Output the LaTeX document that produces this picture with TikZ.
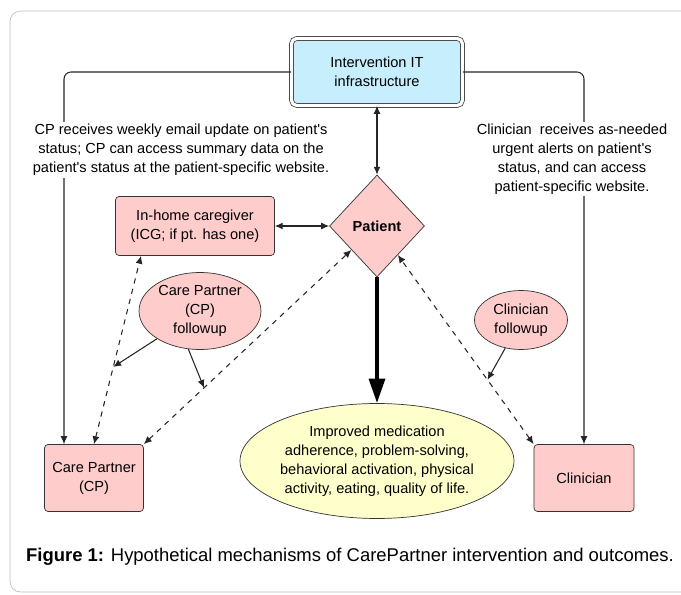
\documentclass[tikz,border=0pt]{standalone}
\usepackage{fontspec}
\setmainfont{Liberation Sans}
\usetikzlibrary{shapes.geometric,arrows.meta}
\definecolor{boxpink}{RGB}{255,204,204}
\definecolor{itblue}{RGB}{198,238,252}
\definecolor{outyellow}{RGB}{255,255,204}
\newcommand{\apos}{\textquotesingle}
\begin{document}
\begin{tikzpicture}[x=0.02cm, y=-0.02cm,
    font=\fontsize{8.3}{10.8}\selectfont,
    >={Latex[length=4.5pt,width=4pt]},
    pinkbox/.style={draw=black!80, fill=boxpink, rounded corners=2pt, align=center, inner sep=1pt},
    pinkoval/.style={ellipse, draw=black!80, fill=boxpink, align=center, inner sep=0pt},
    note/.style={fill=white, align=center, inner sep=1pt},
    link/.style={draw=black!85, line width=.6pt},
    maybe/.style={link, dashed}]
    \useasboundingbox (0,0) rectangle (681,595);
    \draw[black!25, rounded corners=6pt] (10,11) rectangle (720,592);
    \node[draw=black!80, double, double distance=1.8pt, fill=itblue, rounded corners=3pt, align=center, minimum width=3.42cm, minimum height=1.34cm] (it) at (377,72){Intervention IT\\infrastructure};
    \node[diamond, draw=black!80, fill=boxpink, minimum width=1.9cm, minimum height=2.04cm, inner sep=0pt, font=\fontsize{8.3}{10.8}\selectfont\bfseries] (patient) at (377,226){Patient};
    \node[pinkbox, minimum width=3.18cm, minimum height=1.18cm] (icg) at (195,226){In-home caregiver\\(ICG; if pt. has one)};
    \node[pinkoval, minimum width=2.44cm, minimum height=1.54cm] (cpf) at (200,311){Care Partner\\(CP)\\followup};
    \node[pinkoval, minimum width=1.86cm, minimum height=1.18cm] (clf) at (521,320){Clinician\\followup};
    \node[ellipse, draw=black!80, fill=outyellow, align=center, inner sep=0pt, minimum width=5.48cm, minimum height=2.3cm] (outcome) at (377,461){Improved medication\\adherence, problem-solving,\\behavioral activation, physical\\activity, eating, quality of life.};
    \node[pinkbox, minimum width=1.98cm, minimum height=1.34cm] (cp) at (94,478){Care Partner\\(CP)};
    \node[pinkbox, minimum width=2cm, minimum height=1.34cm] (clin) at (584,478){Clinician};
    \draw[link, ->, rounded corners=4pt] (it.west) -| ([xshift=-0.6cm]cp.north);
    \draw[link, ->, rounded corners=4pt] (it.east) -| (clin.north);
    \node[note] (cpnote) at (181,150){CP receives weekly email update on patient\apos s\\status; CP can access summary data on the\\patient\apos s status at the patient-specific website.};
    \node[note] (clinnote) at (572,159){Clinician\ \ receives as-needed\\urgent alerts on patient\apos s\\status, and can access\\patient-specific website.};
    \draw[link, <->] (it) -- (patient);
    \draw[link, <->] (icg) -- (patient);
    \draw[line width=2.2pt, -{Triangle[length=14pt,width=9pt]}] (patient) -- (outcome);
    \draw[maybe, <->] (cp.north) -- ([xshift=-1.08cm]icg.south) coordinate[pos=.41] (cpicg);
    \draw[maybe, <->] (cp.north east) -- (patient) coordinate[pos=.29] (cppat);
    \draw[maybe, <->] (clin.north west) -- (patient) coordinate[pos=.34] (clinpat);
    \draw[link, ->] (cpf) -- (cpicg);
    \draw[link, ->] (cpf.253) -- (cppat);
    \draw[link, ->] (clf) -- (clinpat);
    \node[anchor=west, font=\fontsize{10.5}{12.5}\selectfont] (caption) at (20,557){\textbf{Figure 1:} Hypothetical mechanisms of CarePartner intervention and outcomes.};
\end{tikzpicture}
\end{document}
